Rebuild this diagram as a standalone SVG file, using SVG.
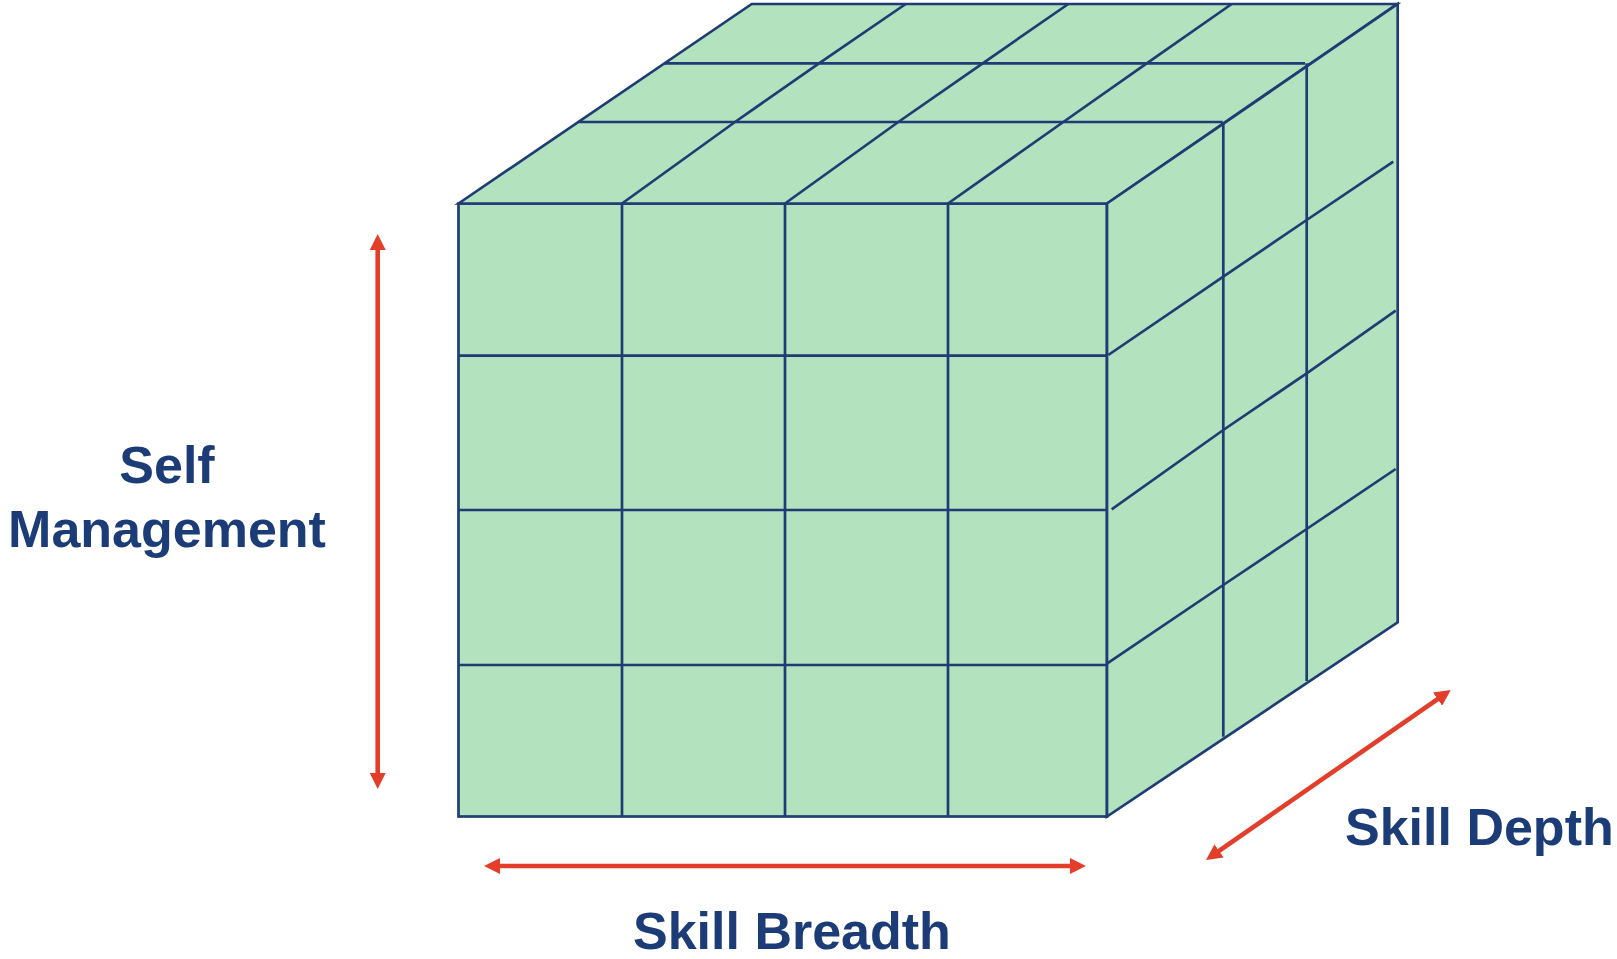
<svg xmlns="http://www.w3.org/2000/svg" width="1617" height="959" viewBox="0 0 1617 959">
<style>
.face{fill:#b2e2be;stroke:#1f3d74;stroke-width:2.7;stroke-linejoin:miter}
.ln{fill:none;stroke:#1f3d74;stroke-width:2.7;stroke-linejoin:round}
.arr{fill:none;stroke:#e23e2a;stroke-width:4.6;marker-start:url(#ah);marker-end:url(#ah)}
.lbl{font-family:"Liberation Sans",Arial,sans-serif;font-weight:bold;font-size:52px;fill:#1c3c77}
</style>
<defs>
<marker id="ah" markerUnits="userSpaceOnUse" markerWidth="16" markerHeight="16" viewBox="0 0 16 16" refX="1" refY="8" orient="auto-start-reverse">
<path d="M0,0 L16,8 L0,16 Z" fill="#e23e2a"/>
</marker>
</defs>
<g id="cube">
<g id="front-face">
<rect class="face" x="458.5" y="203.5" width="648.5" height="613"/>
<path class="ln" d="M622,203.5V816.5M785,203.5V816.5M948,203.5V816.5M458.5,355.7H1107M458.5,510H1107M458.5,665H1107"/>
</g>
<g id="top-face">
<polygon class="face" points="458.5,203.5 751.7,4 1397,4 1107,203.5"/>
<path class="ln" d="M578.3,122H1222.7M664,63.3H1305"/>
<polyline class="ln" points="622,203.5 735,122 819,63.3 905.7,4"/>
<polyline class="ln" points="785,203.5 898.3,122 982.7,63.3 1068.3,4"/>
<polyline class="ln" points="948,203.5 1063.3,122 1146.7,63.3 1231.7,4"/>
</g>
<g id="right-face">
<polygon class="face" points="1107,203.5 1397.7,4 1397.7,622.3 1107,816.5"/>
<path class="ln" d="M1223.3,122V736.7M1306.7,63.3V681"/>
<polyline class="ln" points="1108.3,355 1223.3,276.7 1306.7,220 1393.3,161.7"/>
<polyline class="ln" points="1111.7,509.3 1223.3,430 1306.7,373.3 1395.7,310.7"/>
<polyline class="ln" points="1107.3,663.3 1223.3,585 1306.7,529 1395.7,469"/>
</g>
</g>
<g id="connectors">
<line id="arrow-self-management" class="arr" x1="377.7" y1="249" x2="377.7" y2="774"/>
<line id="arrow-skill-breadth" class="arr" x1="499" y1="866" x2="1071" y2="866"/>
<line id="arrow-skill-depth" class="arr" x1="1218.3" y1="851.4" x2="1438.4" y2="698.6"/>
</g>
<g id="label-self-management">
<text class="lbl" x="167" y="482.7" text-anchor="middle">Self</text>
<text class="lbl" x="167" y="546.7" text-anchor="middle">Management</text>
</g>
<g id="label-skill-breadth">
<text class="lbl" x="633" y="949">Skill Breadth</text>
</g>
<g id="label-skill-depth">
<text class="lbl" x="1345" y="845">Skill Depth</text>
</g>
</svg>
